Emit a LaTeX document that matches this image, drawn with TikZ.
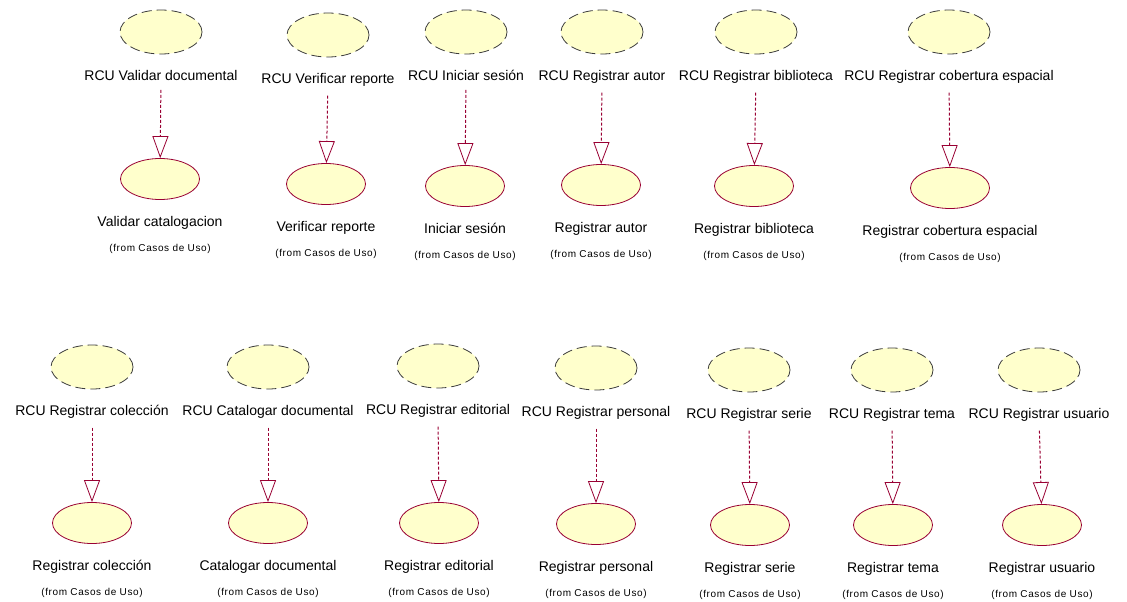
\documentclass[tikz,border=0pt]{standalone}
\usepackage{fontspec}
\setmainfont{Liberation Sans}
\usetikzlibrary{arrows.meta,shapes.geometric}
\definecolor{ucfill}{RGB}{255,255,204}
\definecolor{ucline}{RGB}{153,0,51}
\definecolor{rculine}{RGB}{60,60,60}

\tikzset{
  rcu/.style={ellipse, draw=rculine, fill=ucfill, line width=0.8pt,
    dash pattern=on 10pt off 5pt, minimum width=82pt, minimum height=44pt, inner sep=0pt},
  uc/.style={ellipse, draw=ucline, fill=ucfill, line width=0.8pt,
    minimum width=79pt, minimum height=41pt, inner sep=0pt},
  lbl/.style={font=\fontsize{14}{16}\selectfont, inner sep=0pt, anchor=base},
  fromlbl/.style={font=\fontsize{10}{12}\selectfont\addfontfeature{LetterSpace=6}, inner sep=0pt, anchor=base},
  realize/.style={draw=ucline, line width=1pt, dash pattern=on 3pt off 2pt,
    shorten <=9pt, -{Triangle[open, length=22pt, width=16pt, line width=0.8pt]}}
}

% one realization: RCU use case (dashed) realizing a use case
% #1 id, #2/#3 upper ellipse centre, #4/#5 lower ellipse centre, #6 upper label, #7 lower label
\newcommand\ucpair[7]{%
  \node[rcu] (t#1) at (#2,#3) {};
  \node[lbl] (tl#1) at (#2,{#3+48.5}) {#6};
  \node[uc] (b#1) at (#4,#5) {};
  \node[lbl] (bl#1) at (#4,{#5+47}) {#7};
  \node[fromlbl] (f#1) at (#4,{#5+72.5}) {(from Casos de Uso)};
  \draw[realize] (tl#1) -- (b#1);
}

\begin{document}
\begin{tikzpicture}[x=1pt,y=-1pt]
  \fill[white] (0,0) rectangle (1127,602);
  \useasboundingbox (0,0) rectangle (1127,602);

  % upper row
  \ucpair{1}{161}{32}{160}{179}{RCU Validar documental}{Validar catalogacion}
  \ucpair{2}{328}{35}{326}{184}{RCU Verificar reporte}{Verificar reporte}
  \ucpair{3}{466}{32}{465}{186}{RCU Iniciar sesión}{Iniciar sesión}
  \ucpair{4}{602}{32}{601}{185}{RCU Registrar autor}{Registrar autor}
  \ucpair{5}{756}{32}{754}{186}{RCU Registrar biblioteca}{Registrar biblioteca}
  \ucpair{6}{949}{32}{950}{188}{RCU Registrar cobertura espacial}{Registrar cobertura espacial}

  % lower row
  \ucpair{7}{92}{367}{92}{523}{RCU Registrar colección}{Registrar colección}
  \ucpair{8}{268}{367}{268}{523}{RCU Catalogar documental}{Catalogar documental}
  \ucpair{9}{438}{366}{439}{523}{RCU Registrar editorial}{Registrar editorial}
  \ucpair{10}{596}{368}{596}{524}{RCU Registrar personal}{Registrar personal}
  \ucpair{11}{749}{370}{750}{525}{RCU Registrar serie}{Registrar serie}
  \ucpair{12}{892}{370}{893}{525}{RCU Registrar tema}{Registrar tema}
  \ucpair{13}{1039}{370}{1042}{525}{RCU Registrar usuario}{Registrar usuario}
\end{tikzpicture}
\end{document}
